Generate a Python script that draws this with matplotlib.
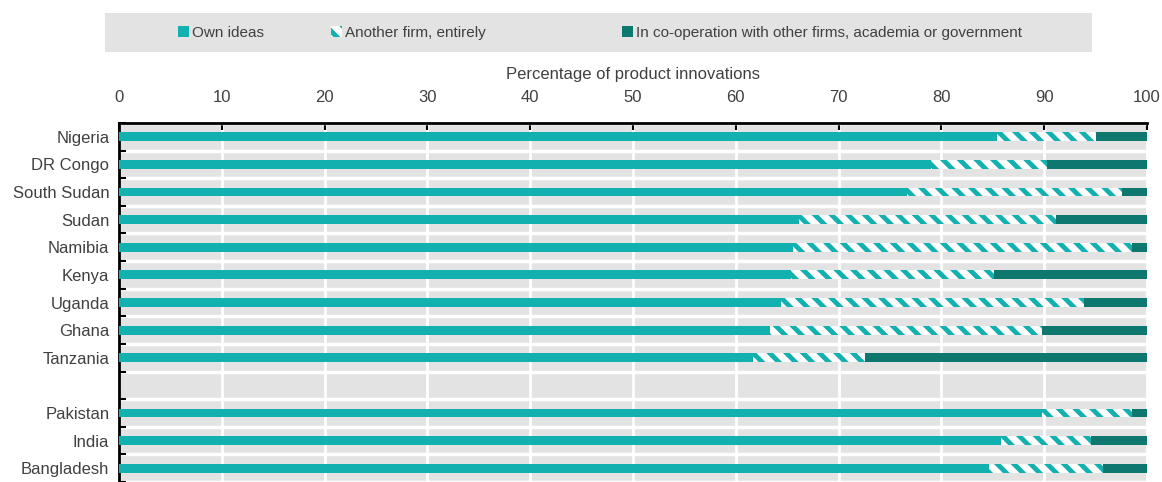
import numpy as np
import matplotlib
matplotlib.use("Agg")
import matplotlib.pyplot as plt
from matplotlib.patches import Patch, Rectangle

plt.rcParams['font.family'] = ['Liberation Sans', 'DejaVu Sans']
plt.rcParams['hatch.linewidth'] = 3.5

# data (percent of product innovations)
countries = ['Nigeria', 'DR Congo', 'South Sudan', 'Sudan', 'Namibia', 'Kenya',
             'Uganda', 'Ghana', 'Tanzania', '', 'Pakistan', 'India', 'Bangladesh']
own_ideas = [85.4, 79.0, 76.7, 66.1, 65.6, 65.4, 64.4, 63.3, 61.7, np.nan, 89.8, 85.8, 84.6]
another_firm = [9.6, 11.3, 20.9, 25.0, 32.9, 19.7, 29.5, 26.5, 10.9, np.nan, 8.7, 8.8, 11.1]
cooperation = [5.0, 9.7, 2.4, 8.9, 1.5, 14.9, 6.1, 10.2, 27.4, np.nan, 1.5, 5.4, 4.3]

legend_labels = ['Own ideas', 'Another firm, entirely',
                 'In co-operation with other firms, academia or government']
c_own = '#12B0AF'
c_coop = '#0E786E'
txt = '#404040'

fig = plt.figure(figsize=(11.62, 4.82), dpi=100)
ax = fig.add_axes([119 / 1162, 0.0, (1147 - 119) / 1162, 1 - 123 / 482])
ax.set_facecolor('#E3E3E3')

y = np.arange(len(countries))
own = np.array(own_ideas)
oth = np.array(another_firm)
coo = np.array(cooperation)
h = 0.32
ax.barh(y, own, height=h, color=c_own, linewidth=0, zorder=3)
ax.barh(y, oth, left=own, height=h, facecolor='white', edgecolor=c_own,
        hatch='\\\\', linewidth=0, zorder=3)
ax.barh(y, coo, left=own + oth, height=h, color=c_coop, linewidth=0, zorder=3)

ax.set_xlim(0, 100)
ax.set_ylim(-0.5 + 359 / 28, -0.5)
ax.xaxis.tick_top()
ax.xaxis.set_label_position('top')
ax.set_xticks(np.arange(0, 101, 10))
ax.set_xlabel('Percentage of product innovations', fontsize=12, color=txt, labelpad=8)
ax.tick_params(axis='x', direction='in', length=5, width=1.5, color='black',
               labelsize=12, labelcolor=txt, pad=13)
ax.set_yticks(y)
ax.set_yticklabels(countries)
ax.set_yticks(np.arange(-0.5, len(countries) + 0.5, 1), minor=True)
ax.tick_params(axis='y', which='major', length=0, labelsize=12, labelcolor=txt, pad=7)
ax.tick_params(axis='y', which='minor', direction='in', length=5, width=1.5, color='black')

ax.grid(axis='x', which='major', color='white', linewidth=2, zorder=1)
ax.grid(axis='y', which='minor', color='white', linewidth=2.5, zorder=1)
ax.set_axisbelow(True)
for s in ['right', 'bottom']:
    ax.spines[s].set_visible(False)
for s in ['top', 'left']:
    ax.spines[s].set_linewidth(2)
    ax.spines[s].set_color('black')

# legend band
fig.patches.append(Rectangle((105 / 1162, 1 - 52 / 482), (1092 - 105) / 1162, 39 / 482,
                             transform=fig.transFigure, facecolor='#E3E3E3',
                             edgecolor='none', zorder=0))
handles = [Patch(facecolor=c_own, edgecolor='none'),
           Patch(facecolor='white', edgecolor=c_own, hatch='\\\\', linewidth=0),
           Patch(facecolor=c_coop, edgecolor='none')]
xpos = [178, 331, 622]
for hd, lb, xp in zip(handles, legend_labels, xpos):
    fig.legend([hd], [lb], loc='center left', bbox_to_anchor=(xp / 1162, 1 - 33 / 482),
               frameon=False, fontsize=11, labelcolor=txt, borderpad=0, borderaxespad=0,
               handlelength=0.7, handleheight=0.7, handletextpad=0.2)

fig.savefig('out.png', dpi=100)
